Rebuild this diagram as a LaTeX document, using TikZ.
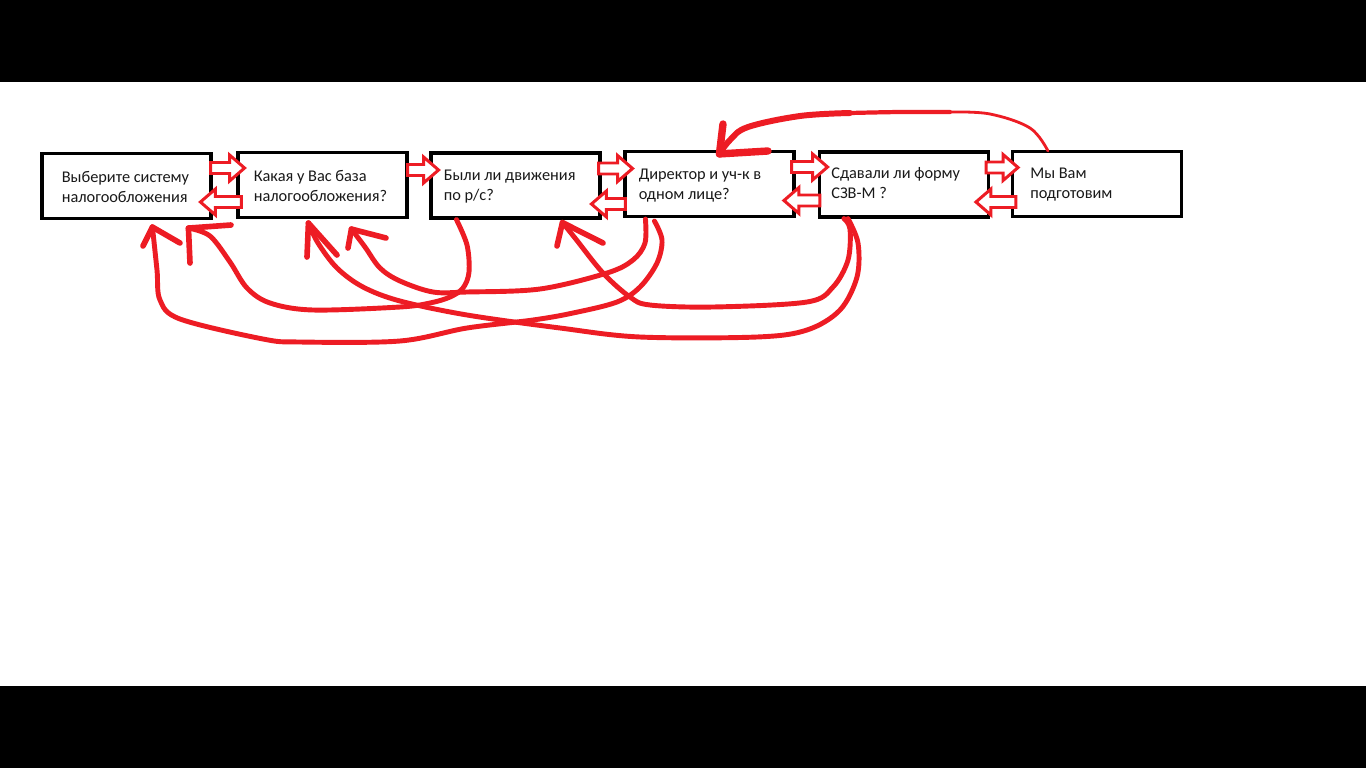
\documentclass[tikz,border=0pt]{standalone}
\usepackage{fontspec}
\setmainfont{Carlito}
\usetikzlibrary{calc}
\definecolor{pred}{RGB}{237,28,36}
\begin{document}
\begin{tikzpicture}[x=0.02cm,y=-0.02cm,
  box/.style={draw=black,line width=1.8pt,fill=white,rectangle,minimum width=3.38cm,minimum height=1.3cm,inner sep=0pt},
  label/.style={anchor=west,inner sep=0pt,align=left,font=\fontsize{9.3}{11.4}\selectfont,text=black!90},
  hollow/.style={draw=pred,fill=white,line width=1.7pt,line join=miter},
  pics/harr/.style={code={\draw[hollow] (0,-5.5) -- (#1-15,-5.5) -- (#1-15,-13) -- (#1,0) -- (#1-15,13) -- (#1-15,5.5) -- (0,5.5) -- cycle;}},
  curve/.style={draw=pred,line width=2.8pt,line cap=round,line join=round},
  barb/.style={draw=pred,line width=3.2pt,line cap=round}]
\useasboundingbox (0,0) rectangle (1366,768);
\fill[black] (0,0) rectangle (1366,768);
\fill[white] (0,82) rectangle (1366,686);

% boxes
\node[box] (b1) at (126.5,186) {};
\node[box] (b2) at (322.5,185) {};
\node[box] (b3) at (515.5,185.5) {};
\node[box] (b4) at (709.5,184) {};
\node[box] (b5) at (904,184.5) {};
\node[box] (b6) at (1097,184) {};

% texts
\node[label] (t1) at ($(b1.west)+(21,1)$) {Выберите систему\\налогообложения};
\node[label] (t2) at ($(b2.west)+(17,1)$) {Какая у Вас база\\налогообложения?};
\node[label] (t3) at ($(b3.west)+(14,1)$) {Были ли движения\\по р/с?};
\node[label] (t4) at ($(b4.west)+(15,2)$) {Директор и уч-к в\\одном лице?};
\node[label] (t5) at ($(b5.west)+(13,-1)$) {Сдавали ли форму\\СЗВ-М ?};
\node[label] (t6) at ($(b6.west)+(19,1)$) {Мы Вам\\подготовим};

% hollow block arrows between boxes
\pic at ($(b1.east)+(-2,-18)$) {harr=34};
\pic[rotate=180] at ($(b2.west)+(5,17)$) {harr=41};
\pic at ($(b2.east)+(-1,-15)$) {harr=31};
\pic at ($(b3.east)+(-3,-17)$) {harr=34};
\pic[rotate=180] at ($(b4.west)+(2,20)$) {harr=34};
\pic at ($(b4.east)+(-4,-17)$) {harr=36};
\pic[rotate=180] at ($(b5.west)+(2,16)$) {harr=36};
\pic at ($(b5.east)+(-4,-17)$) {harr=32};
\pic[rotate=180] at ($(b6.west)+(5,18)$) {harr=40};

% end points of the red curves
\coordinate (g0) at ($(b6.north west)+(37,1)$);
\coordinate (gt) at ($(b4.north west)+(96,4)$);
\coordinate (bs) at ($(b3.south west)+(27,0)$);
\coordinate (bt) at ($(b1.south west)+(148,8)$);
\coordinate (cs) at ($(b4.south west)+(22,1)$);
\coordinate (ct) at ($(b2.south west)+(115,10)$);
\coordinate (ds) at ($(b5.south west)+(30,0)$);
\coordinate (dt) at ($(b2.south west)+(72,4)$);
\coordinate (es) at ($(b4.south west)+(31,3)$);
\coordinate (et) at ($(b1.south west)+(112,7)$);
\coordinate (fs) at ($(b5.south west)+(26,0)$);
\coordinate (ft) at ($(b3.south west)+(133,3)$);

% top curve: box 6 -> box 4
\draw[curve,line width=1.6pt] plot[smooth,tension=0.6] coordinates {(g0) (1030,128) (990,114) (950,112)};
\draw[curve,line width=2.4pt] plot[smooth,tension=0.6] coordinates {(950,112) (900,112) (850,113)};
\draw[curve,line width=3.4pt] plot[smooth,tension=0.6] coordinates {(850,113) (800,116) (748,127) (730,140) (gt)};
\draw[barb,line width=4.2pt] (gt) -- (723,124);
\draw[barb,line width=4.2pt] (gt) -- (768,151);

% box 3 -> box 1
\draw[curve] plot[smooth,tension=0.55] coordinates {(bs) (467,245) (469,272) (463,288) (450,297) (430,303) (400,307) (313,310) (270,303) (247,288) (230,262) (210,236) (bt)};
\draw[barb] (bt) -- (190,263);
\draw[barb] (bt) -- (231,225);

% box 4 -> box 2
\draw[curve] plot[smooth,tension=0.55] coordinates {(cs) (645,243) (633,260) (607,273) (540,289) (467,292) (433,292) (400,281) (380,268) (365,247) (ct)};
\draw[barb] (ct) -- (348,248);
\draw[barb] (ct) -- (386,238);

% box 5 -> box 2
\draw[curve] plot[smooth,tension=0.55] coordinates {(ds) (858,243) (857,277) (840,310) (807,330) (757,337) (640,337) (560,328) (467,315) (400,301) (363,287) (337,268) (318,243) (dt)};
\draw[barb] (dt) -- (307,257);
\draw[barb] (dt) -- (337,255);

% box 4 -> box 1
\draw[curve] plot[smooth,tension=0.55] coordinates {(es) (662,240) (657,263) (640,287) (617,302) (573,313) (533,320) (467,328) (400,341) (300,342) (263,339) (180,319) (160,300) (157,270) (et)};
\draw[barb] (et) -- (143,246);
\draw[barb] (et) -- (180,243);

% box 5 -> box 3
\draw[curve] plot[smooth,tension=0.55] coordinates {(fs) (850,229) (848,260) (833,287) (807,302) (713,307) (650,305) (630,297) (603,273) (575,238) (ft)};
\draw[barb] (ft) -- (557,246);
\draw[barb] (ft) -- (603,243);
\end{tikzpicture}
\end{document}
